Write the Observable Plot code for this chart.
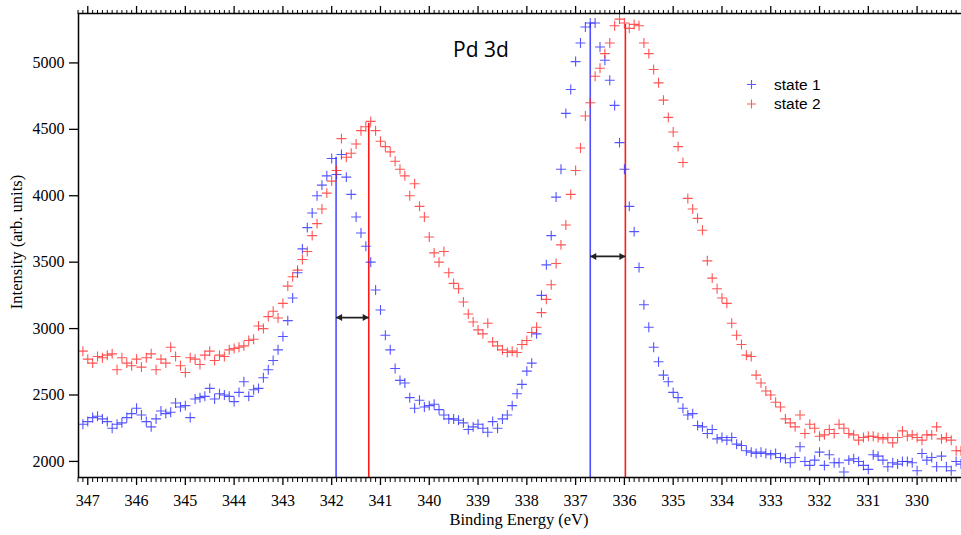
<!DOCTYPE html>
<html>
<head>
<meta charset="utf-8">
<script src="https://cdn.jsdelivr.net/npm/d3@7"></script>
<script src="https://cdn.jsdelivr.net/npm/@observablehq/plot@0.6"></script>
<style>
  html, body { margin: 0; padding: 0; background: #fff; }
  svg { display: block; }
</style>
</head>
<body>
<div id="chart"></div>
<script>
// Binding energy grid (eV)
const energy = [
  347.1,347.0,346.9,346.8,346.7,346.6,346.5,346.4,346.3,346.2,
  346.1,346.0,345.9,345.8,345.7,345.6,345.5,345.4,345.3,345.2,
  345.1,345.0,344.9,344.8,344.7,344.6,344.5,344.4,344.3,344.2,
  344.1,344.0,343.9,343.8,343.7,343.6,343.5,343.4,343.3,343.2,
  343.1,343.0,342.9,342.8,342.7,342.6,342.5,342.4,342.3,342.2,
  342.1,342.0,341.9,341.8,341.7,341.6,341.5,341.4,341.3,341.2,
  341.1,341.0,340.9,340.8,340.7,340.6,340.5,340.4,340.3,340.2,
  340.1,340.0,339.9,339.8,339.7,339.6,339.5,339.4,339.3,339.2,
  339.1,339.0,338.9,338.8,338.7,338.6,338.5,338.4,338.3,338.2,
  338.1,338.0,337.9,337.8,337.7,337.6,337.5,337.4,337.3,337.2,
  337.1,337.0,336.9,336.8,336.7,336.6,336.5,336.4,336.3,336.2,
  336.1,336.0,335.9,335.8,335.7,335.6,335.5,335.4,335.3,335.2,
  335.1,335.0,334.9,334.8,334.7,334.6,334.5,334.4,334.3,334.2,
  334.1,334.0,333.9,333.8,333.7,333.6,333.5,333.4,333.3,333.2,
  333.1,333.0,332.9,332.8,332.7,332.6,332.5,332.4,332.3,332.2,
  332.1,332.0,331.9,331.8,331.7,331.6,331.5,331.4,331.3,331.2,
  331.1,331.0,330.9,330.8,330.7,330.6,330.5,330.4,330.3,330.2,
  330.1,330.0,329.9,329.8,329.7,329.6,329.5,329.4,329.3,329.2,
  329.1
];

// state 1 intensity (arb. units)
const state1 = [
  2280,2300,2330,2340,2320,2300,2250,2280,2290,2330,
  2360,2400,2350,2300,2260,2320,2380,2360,2370,2440,
  2410,2420,2330,2470,2480,2490,2550,2470,2510,2500,
  2490,2450,2520,2600,2490,2540,2550,2630,2690,2760,
  2840,2940,3060,3230,3420,3600,3760,3870,4000,4080,
  4150,4280,4160,4310,4140,4010,3840,3720,3620,3500,
  3290,3140,2950,2840,2700,2610,2590,2480,2400,2460,
  2410,2420,2430,2390,2350,2320,2320,2310,2290,2240,
  2260,2280,2250,2220,2300,2250,2320,2350,2420,2510,
  2580,2680,2740,2960,3250,3480,3700,3990,4200,4620,
  4800,5010,5150,5270,5300,5300,5120,5020,4870,4680,
  4400,4200,3920,3730,3460,3180,3010,2860,2750,2650,
  2600,2520,2480,2400,2350,2360,2270,2260,2210,2240,
  2170,2180,2160,2180,2130,2120,2080,2070,2060,2070,
  2060,2050,2060,2030,2020,1990,2030,2110,2000,1970,
  2010,2070,1970,2050,1990,1990,1920,2010,2020,2000,
  1970,1940,2050,2040,2010,1960,1990,1980,2000,2000,
  1990,1930,2060,2010,2030,1960,2040,1960,1930,2000,
  1980
];

// state 2 intensity (arb. units)
const state2 = [
  2830,2770,2740,2790,2780,2800,2810,2690,2780,2740,
  2720,2770,2710,2780,2810,2690,2770,2740,2860,2790,
  2720,2670,2780,2770,2730,2800,2830,2760,2800,2790,
  2840,2850,2860,2870,2910,2920,3020,3000,3090,3130,
  3080,3190,3320,3390,3440,3520,3580,3700,3790,3900,
  4020,4110,4190,4430,4290,4320,4390,4490,4520,4560,
  4490,4410,4370,4330,4260,4200,4150,4000,4090,3920,
  3840,3690,3570,3500,3580,3420,3340,3300,3200,3110,
  3050,2990,2960,3040,2900,2870,2840,2820,2830,2820,
  2880,2910,2970,3010,3120,3220,3330,3490,3630,3780,
  4010,4190,4360,4600,4700,4900,4960,5070,5150,5280,
  5330,5300,5260,5290,5280,5150,5070,4950,4850,4720,
  4590,4480,4370,4250,3980,3900,3830,3740,3510,3380,
  3300,3230,3190,3040,2950,2880,2800,2790,2650,2590,
  2530,2500,2445,2410,2320,2290,2260,2350,2210,2280,
  2250,2190,2200,2240,2210,2280,2250,2210,2200,2160,
  2180,2190,2190,2180,2170,2180,2140,2180,2230,2190,
  2200,2180,2160,2200,2200,2260,2170,2180,2160,2080,
  2080
];

// peak markers (vertical lines)
const peakEnergy = [341.91, 341.24, 336.70, 335.98];
const peakTop    = [4290, 4545, 5300, 5290];
const peakState  = ["state 1", "state 2", "state 1", "state 2"];

// shift arrows
const shiftFrom  = [341.91, 336.70];
const shiftTo    = [341.24, 335.98];
const shiftLevel = [3083, 3543];

// axes
const xTicks = [347,346,345,344,343,342,341,340,339,338,337,336,335,334,333,332,331,330];
const yTicks = [2000,2500,3000,3500,4000,4500,5000];
const xDomain = [347.19, 329.09];
const yDomain = [1879, 5372];

const seriesColor = {"state 1": "#2b2bff", "state 2": "#ff2b2b"};
const lineColor = {"state 1": "#4d4dff", "state 2": "#ff1a1a"};

const pts1 = energy.map((e, i) => ({e, v: state1[i]}));
const pts2 = energy.map((e, i) => ({e, v: state2[i]}));
const peaks = peakEnergy.map((e, i) => ({e, top: peakTop[i], s: peakState[i]}));
const shifts = shiftFrom.map((a, i) => ({a, b: shiftTo[i], y: shiftLevel[i]}));
const heads = shifts.flatMap(d => [{x: d.a, y: d.y, rot: -90, dx: 4}, {x: d.b, y: d.y, rot: 90, dx: -4}]);

const minorTicks = d3.range(Math.round(xDomain[1] * 10) + 1, Math.round(xDomain[0] * 10) + 1)
  .map(d => d / 10).filter(d => Math.abs(d - Math.round(d)) > 1e-6);

const serif = "Liberation Serif, Times New Roman, serif";

const chart = Plot.plot({
  width: 961,
  height: 535,
  marginLeft: 78,
  marginRight: 0,
  marginTop: 13,
  marginBottom: 58,
  style: {background: "#fff", color: "#000", overflow: "visible"},
  x: {domain: xDomain, label: null},
  y: {domain: yDomain, label: null},
  marks: [
    Plot.axisY(yTicks, {tickSize: 9, tickPadding: 5, fontSize: 16, fontFamily: serif, label: null, strokeWidth: 1.3, tickFormat: d => String(d)}),
    Plot.axisX(xTicks, {anchor: "bottom", tickSize: 8, tickPadding: 9, fontSize: 16, fontFamily: serif, label: null, strokeWidth: 1.3, tickFormat: d => String(d)}),
    Plot.axisX(minorTicks, {anchor: "bottom", tickSize: 5, tickFormat: () => "", label: null, strokeWidth: 1}),
    Plot.axisX(xTicks, {anchor: "top", tickSize: 8, tickFormat: () => "", label: null, strokeWidth: 1.3}),
    Plot.axisX(minorTicks, {anchor: "top", tickSize: 4, tickFormat: () => "", label: null, strokeWidth: 1}),
    Plot.ruleX(peaks, {x: "e", y1: yDomain[0], y2: "top", stroke: d => lineColor[d.s], strokeWidth: 1.6}),
    Plot.dot(pts1, {x: "e", y: "v", symbol: "plus", r: 3.3, fill: "none", stroke: seriesColor["state 1"], strokeOpacity: 0.8, strokeWidth: 1.1}),
    Plot.dot(pts2, {x: "e", y: "v", symbol: "plus", r: 3.3, fill: "none", stroke: seriesColor["state 2"], strokeOpacity: 0.8, strokeWidth: 1.1}),
    Plot.link(shifts, {x1: "a", x2: "b", y1: "y", y2: "y", stroke: "#222", strokeWidth: 1.8, insetLeft: 3, insetRight: 3}),
    Plot.dot(heads.filter(d => d.rot < 0), {x: "x", y: "y", symbol: "triangle", r: 2.6, fill: "#222", stroke: "none", rotate: "rot", dx: 4}),
    Plot.dot(heads.filter(d => d.rot > 0), {x: "x", y: "y", symbol: "triangle", r: 2.6, fill: "#222", stroke: "none", rotate: "rot", dx: -4}),
    Plot.ruleY([yDomain[0], yDomain[1]], {stroke: "#000", strokeWidth: 1.5}),
    Plot.ruleX([xDomain[0]], {stroke: "#000", strokeWidth: 1.5})
  ]
});

document.getElementById("chart").appendChild(chart);

const svg = d3.select(chart);
// axis titles
svg.append("text")
  .attr("x", 519).attr("y", 525)
  .attr("text-anchor", "middle")
  .attr("font-family", serif).attr("font-size", 16.5).attr("fill", "#000")
  .text("Binding Energy (eV)");
svg.append("text")
  .attr("transform", "translate(22,242) rotate(-90)")
  .attr("text-anchor", "middle")
  .attr("font-family", serif).attr("font-size", 16.5).attr("fill", "#000")
  .text("Intensity (arb. units)");
// annotation
svg.append("text")
  .attr("x", 453).attr("y", 57)
  .attr("text-anchor", "start")
  .attr("font-family", "Open Sans, Noto Sans, sans-serif").attr("font-size", 21).attr("fill", "#000")
  .text("Pd 3d");
// legend
const legendItems = [["state 1", "#5a5aff"], ["state 2", "#ff5a5a"]];
legendItems.forEach(([name, col], i) => {
  const cy = 84.5 + i * 19.5;
  svg.append("path")
    .attr("d", `M${747},${cy}H${756}M${751.5},${cy - 4.5}V${cy + 4.5}`)
    .attr("stroke", col).attr("stroke-width", 1.1).attr("fill", "none");
  svg.append("text")
    .attr("x", 774).attr("y", cy + 5)
    .attr("text-anchor", "start")
    .attr("font-family", "Liberation Sans, Arial, sans-serif").attr("font-size", 15.5).attr("fill", "#000")
    .text(name);
});
</script>
</body>
</html>
